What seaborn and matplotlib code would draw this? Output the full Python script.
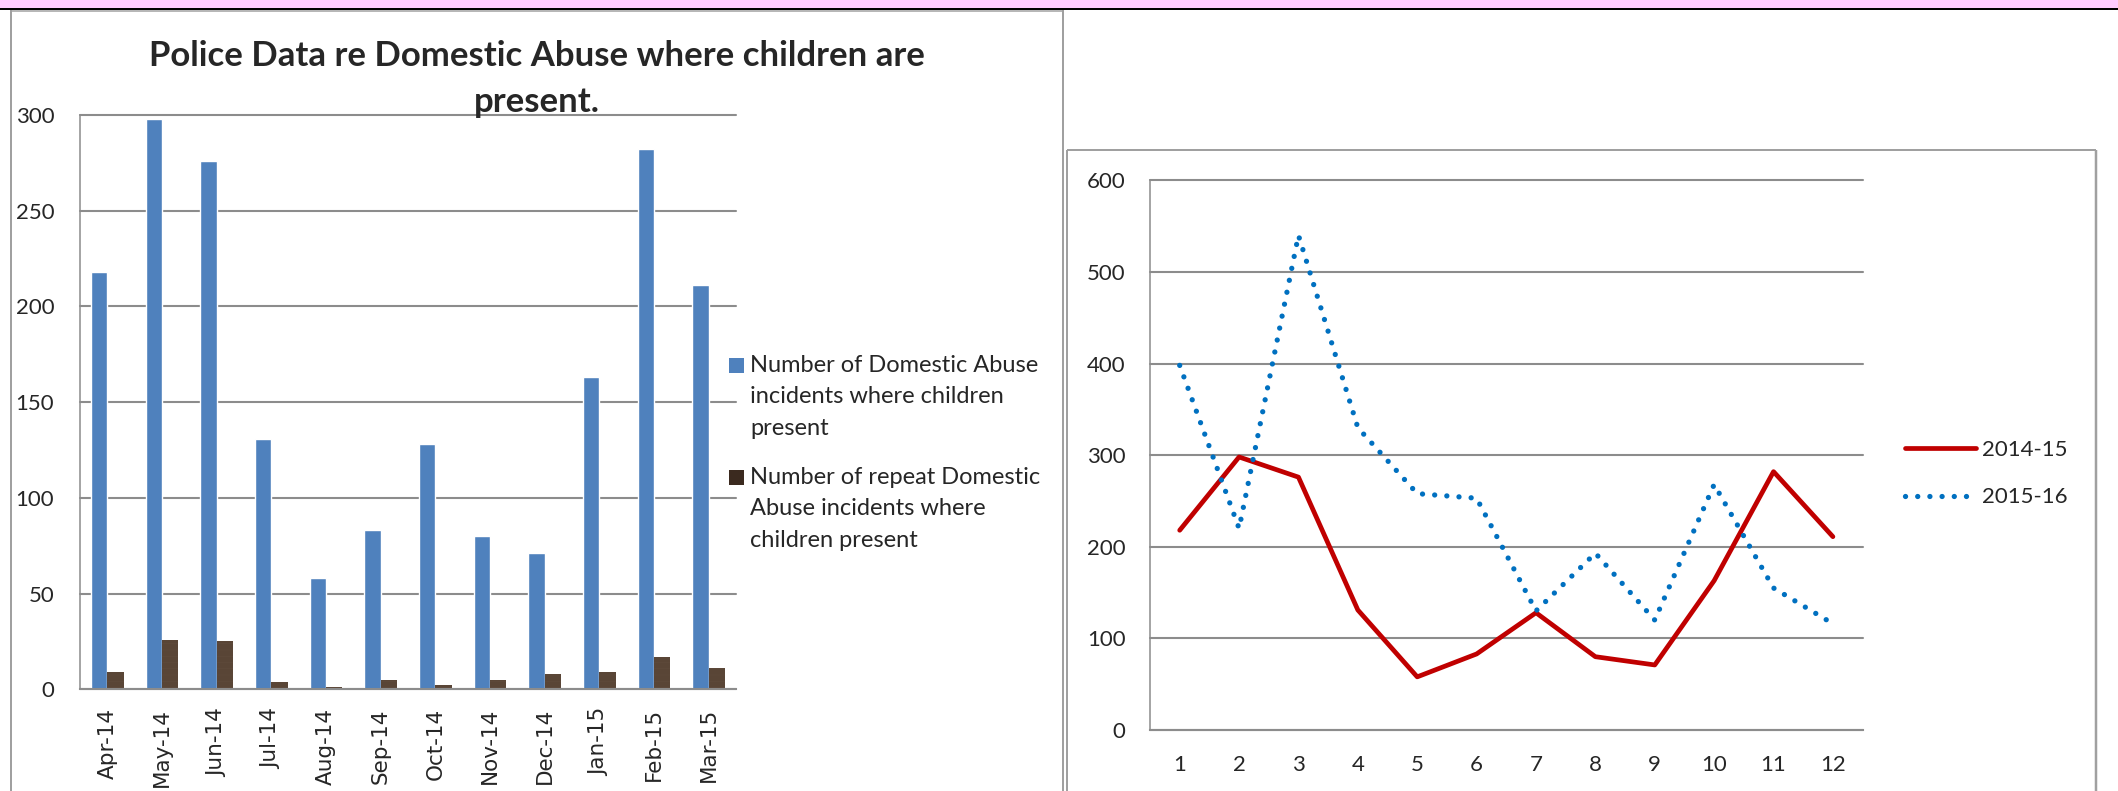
import numpy as np
import pandas as pd
import matplotlib
matplotlib.use("Agg")
import matplotlib.pyplot as plt
from matplotlib.lines import Line2D
from matplotlib.patches import Rectangle
import seaborn as sns

# ---- data -------------------------------------------------------------
months = ["Apr-14", "May-14", "Jun-14", "Jul-14", "Aug-14", "Sep-14",
          "Oct-14", "Nov-14", "Dec-14", "Jan-15", "Feb-15", "Mar-15"]
incidents_with_children = [218, 298, 276, 131, 58, 83, 128, 80, 71, 163, 282, 211]
repeat_incidents = [9, 26, 25, 4, 1, 5, 2, 5, 8, 9, 17, 11]
bar_series = ["Number of Domestic Abuse\nincidents where children\npresent",
              "Number of repeat Domestic\nAbuse incidents where\nchildren present"]

month_numbers = list(range(1, 13))
incidents_2014_15 = incidents_with_children
incidents_2015_16 = [398, 220, 540, 330, 258, 253, 130, 193, 120, 268, 155, 116]
line_series = ["2014-15", "2015-16"]

bar_title = "Police Data re Domestic Abuse where children are\npresent."

# ---- style ------------------------------------------------------------
W, H = 2118, 791
BLUE = "#4F81BD"
BROWN = "#3B2A1F"
RED = "#C00000"
DOT_BLUE = "#0070C0"
GRID = "#8C8C8C"
FRAME = "#A0A0A0"

sns.set_style("white")
plt.rcParams["font.family"] = ["Lato", "DejaVu Sans"]
plt.rcParams["hatch.linewidth"] = 0.8

fig = plt.figure(figsize=(W / 100, H / 100), dpi=100)


def fx(px):
    return px / W


def fy(py):
    return 1 - py / H


def hline(y, x0, x1, color, lw_px):
    fig.add_artist(Line2D([fx(x0), fx(x1)], [fy(y), fy(y)], color=color,
                          lw=lw_px * 0.72, transform=fig.transFigure,
                          solid_capstyle="butt"))


def vline(x, y0, y1, color, lw_px):
    fig.add_artist(Line2D([fx(x), fx(x)], [fy(y0), fy(y1)], color=color,
                          lw=lw_px * 0.72, transform=fig.transFigure,
                          solid_capstyle="butt"))


# sheet chrome: pink band, black rule, panel frames
fig.add_artist(Rectangle((0, fy(8.5)), 1, 8.5 / H, transform=fig.transFigure,
                         facecolor="#FFCCFF", edgecolor="none"))
hline(9.4, 0, W, "black", 2)
hline(10.8, 11, 1063, FRAME, 1.5)
vline(11, 10, H, FRAME, 2)
vline(1062.5, 10, H, FRAME, 2)
hline(150, 1066.7, 2096, FRAME, 2)
vline(1066.7, 150, H, FRAME, 2)
vline(2096, 150, H, FRAME, 2.5)

# ---- left: grouped bars ----------------------------------------------
ax1 = fig.add_axes([fx(80), fy(689.3), fx(656), 574.3 / H])
bars = pd.DataFrame({
    "month": months * 2,
    "count": incidents_with_children + repeat_incidents,
    "series": [bar_series[0]] * 12 + [bar_series[1]] * 12,
})
sns.barplot(data=bars, x="month", y="count", hue="series",
            palette=[BLUE, BROWN], saturation=1, width=0.6, gap=0,
            errorbar=None, legend=False, ax=ax1)

for bar in ax1.containers[1]:
    bar.set_hatch("-" * 14)
    bar.set_edgecolor("#5C4839")
    bar.set_linewidth(0)

ax1.set_xlim(-0.5, 11.5)
ax1.set_ylim(0, 300)
ax1.set_yticks(range(0, 301, 50))
ax1.set_xticks(range(12), labels=months, rotation=90,
               fontfamily="DejaVu Sans", fontsize=15.5)
ax1.set_xticks(np.arange(-0.5, 12, 1), minor=True)
ax1.set_xlabel("")
ax1.set_ylabel("")
ax1.yaxis.grid(True, color=GRID, lw=1.5)
ax1.set_axisbelow(True)
for gl in ax1.get_ygridlines():
    gl.set_clip_on(False)
for side in ("top", "right"):
    ax1.spines[side].set_visible(False)
ax1.spines["left"].set_color(GRID)
ax1.spines["left"].set_linewidth(1.1)
ax1.spines["bottom"].set_color(GRID)
ax1.spines["bottom"].set_linewidth(1.5)
ax1.tick_params(axis="y", length=5, width=1.1, color=GRID, pad=13.5,
                labelsize=16)
ax1.tick_params(axis="x", which="major", length=0, pad=13.5)
ax1.tick_params(axis="x", which="minor", length=6.5, width=1.4, color=GRID)

fig.text(fx(537), fy(40.5), bar_title, ha="center", va="top",
         multialignment="center", fontsize=25, fontweight="bold",
         linespacing=1.5)

# legend with the swatch beside the first line of each entry
for color, label, sq_top, text_top in [(BLUE, bar_series[0], 357.5, 354.5),
                                       (BROWN, bar_series[1], 469.5, 466.8)]:
    fig.add_artist(Rectangle((fx(729), fy(sq_top + 15)), 15 / W, 15 / H,
                             transform=fig.transFigure, facecolor=color,
                             edgecolor="none"))
    fig.text(fx(750), fy(text_top), label, ha="left", va="top",
             fontsize=17, linespacing=1.62)

# ---- right: monthly lines --------------------------------------------
ax2 = fig.add_axes([fx(1150), fy(730), fx(712.6), 549.7 / H])
sns.lineplot(x=month_numbers, y=incidents_2014_15, ax=ax2, color=RED,
             lw=3.4, label=line_series[0], solid_capstyle="round",
             solid_joinstyle="round")
sns.lineplot(x=month_numbers, y=incidents_2015_16, ax=ax2, color=DOT_BLUE,
             lw=3.8, label=line_series[1], linestyle=(0, (0.01, 2.3)),
             dash_capstyle="round")

ax2.set_xlim(0.5, 12.5)
ax2.set_ylim(0, 600)
ax2.set_xticks(month_numbers)
ax2.set_xticks(np.arange(0.5, 13, 1), minor=True)
ax2.set_yticks(range(0, 601, 100))
ax2.yaxis.grid(True, color=GRID, lw=1.5)
ax2.set_axisbelow(True)
for gl in ax2.get_ygridlines():
    gl.set_clip_on(False)
for side in ("top", "right"):
    ax2.spines[side].set_visible(False)
ax2.spines["left"].set_color(GRID)
ax2.spines["left"].set_linewidth(1.1)
ax2.spines["bottom"].set_color(GRID)
ax2.spines["bottom"].set_linewidth(1.5)
ax2.tick_params(axis="y", length=5.8, width=1.1, color=GRID, pad=11.8,
                labelsize=16)
ax2.tick_params(axis="x", which="major", length=0, pad=18, labelsize=16)
ax2.tick_params(axis="x", which="minor", length=5.8, width=1.4, color=GRID)

ax2.legend(loc="center left", bbox_to_anchor=(fx(1905), fy(473.5)),
           bbox_transform=fig.transFigure, frameon=False, fontsize=16,
           handlelength=3.2, handletextpad=0.25, labelspacing=1.25,
           borderpad=0, borderaxespad=0)

fig.savefig("out.png", dpi=100)
